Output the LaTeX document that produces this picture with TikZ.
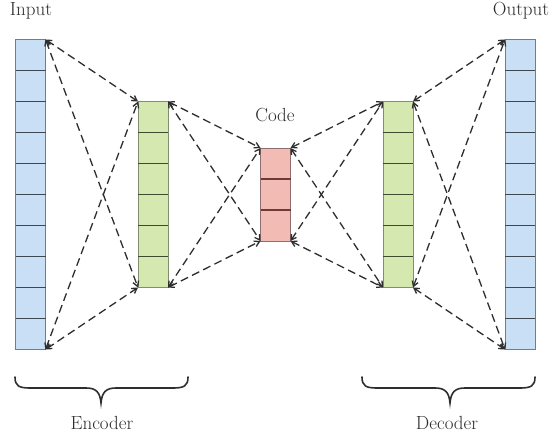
\documentclass[tikz,border=0pt]{standalone}
\usetikzlibrary{arrows.meta}
\definecolor{bluefill}{HTML}{C9DFF5}
\definecolor{blueline}{HTML}{6E7E8E}
\definecolor{bluediv}{HTML}{3E4852}
\definecolor{greenfill}{HTML}{D4E8B0}
\definecolor{greenline}{HTML}{7E8E6E}
\definecolor{greendiv}{HTML}{3E4A30}
\definecolor{redfill}{HTML}{F2BBB3}
\definecolor{redline}{HTML}{8E6E6E}
\definecolor{reddiv}{HTML}{6E3A36}
\definecolor{ink}{HTML}{2E2E2E}
\tikzset{
  layerbox/.style={draw, line width=0.9pt, minimum width=30pt, inner sep=0pt, outer sep=0pt},
  bluebox/.style={layerbox, fill=bluefill, draw=blueline},
  greenbox/.style={layerbox, fill=greenfill, draw=greenline},
  redbox/.style={layerbox, fill=redfill, draw=redline},
  link/.style={draw=ink, line width=1.3pt, dash pattern=on 8pt off 4.5pt,
    {Straight Barb[length=5pt,width=6pt]}-{Straight Barb[length=5pt,width=6pt]}},
  label/.style={text=ink, font=\fontsize{19}{22}\selectfont, inner sep=0pt},
  bracestyle/.style={draw=ink, line width=1.6pt, line cap=round}
}
\begin{document}
\begin{tikzpicture}[x=1pt,y=-1pt]
\useasboundingbox (0,0) rectangle (557,434);
\fill[white] (0,0) rectangle (557,434);
% layers
\node[bluebox, minimum height=310pt] (in) at (30.5,194.5) {};
\node[greenbox, minimum height=186pt] (enc) at (153,194.5) {};
\node[redbox, minimum height=93pt] (code) at (275.5,194.5) {};
\node[greenbox, minimum height=186pt] (dec) at (398,194.5) {};
\node[bluebox, minimum height=310pt] (out) at (520,194.5) {};
% cell dividers
\foreach \i in {1,...,9} {
  \draw[bluediv, line width=1.2pt] (15.5,39.5+31*\i) -- (45.5,39.5+31*\i);
  \draw[bluediv, line width=1.2pt] (505,39.5+31*\i) -- (535,39.5+31*\i);
}
\foreach \i in {1,...,5} {
  \draw[greendiv, line width=1.2pt] (138,101.5+31*\i) -- (168,101.5+31*\i);
  \draw[greendiv, line width=1.2pt] (383,101.5+31*\i) -- (413,101.5+31*\i);
}
\foreach \i in {1,2} {
  \draw[reddiv, line width=1.2pt] (260.5,148+31*\i) -- (290.5,148+31*\i);
}
% connectors
\foreach \a/\b in {in/enc, enc/code, code/dec, dec/out} {
  \draw[link] (\a.north east) -- (\b.north west);
  \draw[link] (\a.north east) -- (\b.south west);
  \draw[link] (\a.south east) -- (\b.north west);
  \draw[link] (\a.south east) -- (\b.south west);
}
% labels
\node[label] (tin) at (31,11) {Input};
\node[label] (tout) at (521,11) {Output};
\node[label] (tcode) at (275,115) {Code};
\node[label] (tenc) at (102,423) {Encoder};
\node[label] (tdec) at (447,423) {Decoder};
% braces
\draw[bracestyle] (15,377) .. controls (15,386) and (19,388) .. (30,388)
  -- (86,388) .. controls (96,388) and (100,392) .. (101,403)
  .. controls (102,392) and (106,388) .. (116,388)
  -- (173,388) .. controls (184,388) and (188,386) .. (188,377);
\draw[bracestyle] (362,377) .. controls (362,386) and (366,388) .. (377,388)
  -- (435,388) .. controls (445,388) and (449,392) .. (450,403)
  .. controls (451,392) and (455,388) .. (465,388)
  -- (520,388) .. controls (531,388) and (535,386) .. (535,377);
\end{tikzpicture}
\end{document}
